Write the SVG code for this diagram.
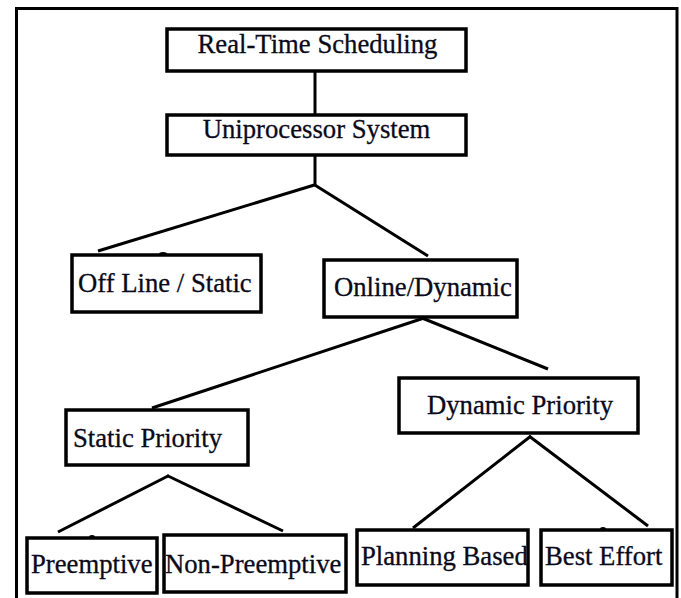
<svg xmlns="http://www.w3.org/2000/svg" width="681" height="598" viewBox="0 0 681 598">
<style>
.box{fill:#fff;stroke:#000;stroke-width:3.5}
.lbl{font-family:'Liberation Serif','Times New Roman',serif;font-size:26.7px;fill:#0a0a1a;stroke:#0a0a1a;stroke-width:0.3}
.con line{stroke:#000;stroke-width:3;stroke-linecap:butt}
.blob{fill:#000}
</style>
<rect width="681" height="598" fill="#fff"/>
<rect x="16.5" y="8.5" width="660.5" height="600" fill="none" stroke="#000" stroke-width="3"/>
<g id="connectors" class="con">
<line x1="315" y1="71" x2="315" y2="115"/>
<line x1="315" y1="155" x2="315" y2="185"/>
<line x1="316" y1="184.5" x2="98" y2="251"/>
<line x1="314" y1="184.5" x2="428" y2="256"/>
<line x1="424" y1="318" x2="152" y2="408"/>
<line x1="422" y1="318" x2="548" y2="369"/>
<line x1="169" y1="475.5" x2="58" y2="532"/>
<line x1="167" y1="475.5" x2="283" y2="531"/>
<line x1="531" y1="436" x2="413" y2="528"/>
<line x1="529" y1="436" x2="648" y2="526"/>
<ellipse class="blob" cx="163" cy="254" rx="4" ry="2"/>
<ellipse class="blob" cx="92" cy="537" rx="3" ry="2"/>
<ellipse class="blob" cx="603" cy="529" rx="3" ry="2"/>
</g>
<g id="rts"><rect class="box" x="167" y="29" width="299" height="42"/><text class="lbl" x="317.5" y="53" text-anchor="middle">Real-Time Scheduling</text></g>
<g id="uni"><rect class="box" x="167" y="115" width="299" height="40"/><text class="lbl" x="316.5" y="138" text-anchor="middle">Uniprocessor System</text></g>
<g id="offline"><rect class="box" x="72" y="255" width="189" height="57"/><text class="lbl" x="78" y="292">Off Line / Static</text></g>
<g id="online"><rect class="box" x="324" y="260" width="193" height="57"/><text class="lbl" x="334" y="296">Online/Dynamic</text></g>
<g id="static"><rect class="box" x="66" y="410" width="182" height="55"/><text class="lbl" x="73" y="447">Static Priority</text></g>
<g id="dynamic"><rect class="box" x="399" y="378" width="239" height="55"/><text class="lbl" x="427" y="414">Dynamic Priority</text></g>
<g id="preemptive"><rect class="box" x="27" y="538" width="130" height="55"/><text class="lbl" x="31" y="573">Preemptive</text></g>
<g id="nonpreemptive"><rect class="box" x="164" y="535" width="182" height="57"/><text class="lbl" x="165" y="573">Non-Preemptive</text></g>
<g id="planning"><rect class="box" x="357" y="530" width="171" height="55"/><text class="lbl" x="361" y="565">Planning Based</text></g>
<g id="besteffort"><rect class="box" x="541" y="530" width="131" height="55"/><text class="lbl" x="545" y="565">Best Effort</text></g>
</svg>
